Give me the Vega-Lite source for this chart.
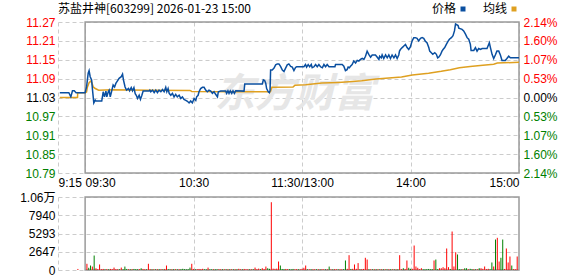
{
  "$schema": "https://vega.github.io/schema/vega-lite/v6.json",
  "background": "#ffffff",
  "padding": {"left": 0, "top": 3, "right": 0, "bottom": 0},
  "bounds": "flush",
  "spacing": 24,
  "config": {
    "view": {"stroke": null},
    "axis": {"labelFont": "Liberation Sans", "labelFontSize": 12, "labelColor": "#000000", "ticks": false, "domain": false, "title": null, "gridColor": "#cccccc", "gridDash": [4, 3], "gridWidth": 1, "labelOverlap": false, "tickCount": 30}
  },
  "datasets": {
    "price": [
      {"t":1,"p":11.045},{"t":6,"p":11.045},{"t":7.1,"p":11.032},{"t":8,"p":11.051},{"t":9,"p":11.051},{"t":10,"p":11.045},{"t":15,"p":11.045},
      {"t":15.8,"p":11.063},{"t":16.7,"p":11.106},{"t":17.2,"p":11.114},{"t":17.8,"p":11.095},{"t":18.6,"p":11.085},{"t":19.1,"p":11.053},{"t":19.8,"p":11.013},{"t":20.6,"p":11.022},{"t":21,"p":11.019},{"t":24.2,"p":11.019},
      {"t":25,"p":11.048},{"t":25.7,"p":11.032},{"t":26.5,"p":11.05},{"t":27,"p":11.032},{"t":27.8,"p":11.048},{"t":28.3,"p":11.053},{"t":28.9,"p":11.032},{"t":29.6,"p":11.048},{"t":30.5,"p":11.069},{"t":31.3,"p":11.063},{"t":32,"p":11.074},{"t":32.9,"p":11.082},{"t":33.8,"p":11.09},{"t":35,"p":11.095},{"t":35.7,"p":11.103},{"t":36.2,"p":11.085},{"t":37.1,"p":11.063},{"t":37.9,"p":11.053},{"t":39,"p":11.058},{"t":39.6,"p":11.051},{"t":40.5,"p":11.061},{"t":41.2,"p":11.051},{"t":42,"p":11.061},{"t":42.7,"p":11.042},
      {"t":43.3,"p":11.037},{"t":44,"p":11.027},{"t":44.9,"p":11.037},{"t":45.6,"p":11.024},{"t":46.4,"p":11.037},{"t":47.1,"p":11.05},{"t":50.4,"p":11.05},{"t":50.8,"p":11.053},{"t":51.3,"p":11.048},{"t":52.3,"p":11.053},{"t":53.2,"p":11.045},{"t":54.1,"p":11.053},{"t":55,"p":11.045},{"t":55.9,"p":11.053},{"t":56.9,"p":11.048},{"t":57.8,"p":11.055},{"t":58.7,"p":11.048},{"t":59.6,"p":11.062},{"t":60.2,"p":11.048},{"t":60.9,"p":11.058},{"t":61.5,"p":11.043},{"t":62.4,"p":11.037},{"t":63.3,"p":11.043},{"t":64.2,"p":11.032},{"t":65.1,"p":11.04},{"t":66,"p":11.032},{"t":67,"p":11.037},{"t":67.9,"p":11.027},{"t":68.8,"p":11.032},{"t":69.7,"p":11.024},{"t":70.7,"p":11.021},{"t":71.6,"p":11.018},{"t":72.5,"p":11.013},{"t":73.4,"p":11.019},{"t":74.3,"p":11.013},{"t":75.3,"p":11.027},{"t":76.2,"p":11.021},{"t":76.7,"p":11.032},{"t":77.5,"p":11.037},{"t":78,"p":11.048},{"t":78.9,"p":11.058},{"t":79.9,"p":11.062},{"t":80.8,"p":11.062},{"t":81.7,"p":11.053},{"t":82.6,"p":11.048},{"t":83.5,"p":11.053},{"t":84.5,"p":11.05},{"t":85.4,"p":11.043},{"t":86.3,"p":11.048},{"t":87.2,"p":11.04},
      {"t":88.2,"p":11.032},{"t":88.7,"p":11.048},{"t":90,"p":11.05},{"t":92.8,"p":11.05},{"t":93.3,"p":11.043},{"t":94,"p":11.051},{"t":94.6,"p":11.043},{"t":95.3,"p":11.051},{"t":96.1,"p":11.043},{"t":96.8,"p":11.051},{"t":97.6,"p":11.043},{"t":98.3,"p":11.051},{"t":102.9,"p":11.05},{"t":103.3,"p":11.072},{"t":113,"p":11.072},{"t":113.6,"p":11.085},{"t":114.3,"p":11.083},{"t":114.9,"p":11.075},{"t":115.4,"p":11.058},{"t":116.3,"p":11.048},{"t":116.9,"p":11.045},{"t":117.3,"p":11.053},{"t":117.6,"p":11.116},{"t":118.5,"p":11.116},{"t":119.5,"p":11.122},{"t":120.4,"p":11.132},{"t":121.3,"p":11.135},{"t":122.2,"p":11.135},{"t":123.1,"p":11.127},{"t":124.1,"p":11.116},{"t":125,"p":11.111},{"t":125.9,"p":11.122},{"t":126.8,"p":11.132},{"t":127.7,"p":11.135},{"t":128.7,"p":11.127},{"t":129.6,"p":11.125},{"t":130.5,"p":11.114},{"t":131.4,"p":11.124},
      {"t":132,"p":11.126},{"t":136,"p":11.126},{"t":136.9,"p":11.133},{"t":137.5,"p":11.125},{"t":138.4,"p":11.133},{"t":139.2,"p":11.126},{"t":140.1,"p":11.133},{"t":140.6,"p":11.123},{"t":141.6,"p":11.126},{"t":142.5,"p":11.133},{"t":143.4,"p":11.126},{"t":144.3,"p":11.133},{"t":145.2,"p":11.126},{"t":146.2,"p":11.123},{"t":147.1,"p":11.133},{"t":148,"p":11.126},{"t":148.9,"p":11.133},{"t":149.9,"p":11.126},{"t":153.2,"p":11.126},{"t":153.5,"p":11.133},{"t":157.2,"p":11.133},{"t":158.1,"p":11.128},{"t":159,"p":11.114},{"t":159.9,"p":11.117},{"t":160.5,"p":11.125},{"t":161.2,"p":11.123},{"t":161.8,"p":11.128},{"t":162.7,"p":11.133},{"t":163.6,"p":11.144},{"t":164.6,"p":11.138},{"t":165.5,"p":11.146},{"t":166.4,"p":11.144},{"t":167.3,"p":11.149},{"t":168.3,"p":11.152},{"t":169.2,"p":11.149},{"t":170.1,"p":11.159},{"t":171,"p":11.175},{"t":171.9,"p":11.165},{"t":172.9,"p":11.156},{"t":173.8,"p":11.163},{"t":175.6,"p":11.163},
      {"t":176.6,"p":11.156},{"t":177.5,"p":11.149},{"t":177.9,"p":11.159},{"t":178.8,"p":11.154},{"t":179.3,"p":11.163},{"t":180.2,"p":11.152},{"t":181.2,"p":11.163},{"t":182.1,"p":11.154},{"t":183,"p":11.163},{"t":183.9,"p":11.152},{"t":184.8,"p":11.163},{"t":185.8,"p":11.154},{"t":186.7,"p":11.163},{"t":187.6,"p":11.152},{"t":188.5,"p":11.163},{"t":188.9,"p":11.175},{"t":189.4,"p":11.18},{"t":190.4,"p":11.186},{"t":191.3,"p":11.191},{"t":192.2,"p":11.196},{"t":193.1,"p":11.186},{"t":194,"p":11.18},{"t":194.9,"p":11.188},{"t":195.9,"p":11.207},{"t":196.8,"p":11.217},{"t":197.7,"p":11.217},{"t":198.6,"p":11.215},{"t":199.5,"p":11.207},{"t":200.5,"p":11.215},{"t":201.4,"p":11.217},{"t":202.3,"p":11.215},{"t":203.2,"p":11.206},{"t":204.1,"p":11.201},{"t":205.1,"p":11.186},{"t":205.6,"p":11.175},{"t":206.5,"p":11.17},{"t":207.3,"p":11.165},{"t":208.4,"p":11.17},{"t":209.3,"p":11.165},{"t":210,"p":11.154},{"t":210.6,"p":11.156},{"t":211.5,"p":11.163},{"t":212.4,"p":11.175},{"t":213,"p":11.18},{"t":213.9,"p":11.186},{"t":214.8,"p":11.196},{"t":215.8,"p":11.206},{"t":216.5,"p":11.212},{"t":217.6,"p":11.217},{"t":218.5,"p":11.223},{"t":219.3,"p":11.238},{"t":219.9,"p":11.26},
      {"t":221.3,"p":11.255},{"t":221.7,"p":11.247},{"t":223.5,"p":11.243},{"t":224.4,"p":11.238},{"t":225.4,"p":11.228},{"t":226.3,"p":11.217},{"t":227.2,"p":11.212},{"t":228.1,"p":11.196},{"t":228.5,"p":11.177},{"t":230,"p":11.177},{"t":230.9,"p":11.186},{"t":231.8,"p":11.175},{"t":232.7,"p":11.183},{"t":233.7,"p":11.18},{"t":234.6,"p":11.183},{"t":237.3,"p":11.183},{"t":238.6,"p":11.201},{"t":239.2,"p":11.186},{"t":240.1,"p":11.165},{"t":241,"p":11.152},{"t":241.9,"p":11.163},{"t":242.8,"p":11.175},{"t":243.8,"p":11.175},{"t":244.7,"p":11.163},{"t":245.6,"p":11.146},{"t":247.4,"p":11.146},{"t":248.3,"p":11.152},{"t":249.3,"p":11.159},{"t":250.2,"p":11.154},{"t":255,"p":11.154}
    ],
    "avg": [
      {"t":1,"a":11.03},{"t":10.8,"a":11.03},{"t":10.9,"a":11.045},{"t":15,"a":11.045},{"t":15.8,"a":11.047},{"t":16.3,"a":11.063},{"t":17.2,"a":11.076},{"t":18.3,"a":11.082},{"t":19.1,"a":11.07},{"t":19.5,"a":11.063},{"t":20.6,"a":11.058},{"t":22.5,"a":11.053},{"t":30,"a":11.054},{"t":50,"a":11.053},{"t":73,"a":11.052},{"t":74,"a":11.049},{"t":100,"a":11.048},{"t":117.5,"a":11.048},{"t":118.3,"a":11.062},{"t":130,"a":11.063},{"t":131,"a":11.068},{"t":137,"a":11.07},{"t":146,"a":11.075},{"t":155,"a":11.077},{"t":161,"a":11.079},{"t":168,"a":11.082},{"t":176,"a":11.088},{"t":183,"a":11.091},{"t":190,"a":11.094},{"t":196,"a":11.1},{"t":205,"a":11.106},{"t":212,"a":11.112},{"t":217,"a":11.117},{"t":222,"a":11.123},{"t":228,"a":11.127},{"t":235,"a":11.131},{"t":241,"a":11.134},{"t":243,"a":11.138},{"t":255,"a":11.14}
    ],
    "vol": [
      {"t":11,"v":150,"c":"u"},{"t":16,"v":900,"c":"u"},{"t":17,"v":320,"c":"d"},{"t":18,"v":650,"c":"d"},{"t":19,"v":500,"c":"u"},{"t":20,"v":2100,"c":"d"},{"t":21,"v":250,"c":"u"},{"t":22,"v":120,"c":"u"},{"t":23,"v":800,"c":"u"},
      {"t":24,"v":120,"c":"u"},{"t":25,"v":150,"c":"u"},{"t":26,"v":100,"c":"d"},{"t":27,"v":120,"c":"u"},{"t":28,"v":100,"c":"d"},{"t":29,"v":150,"c":"u"},{"t":30,"v":120,"c":"u"},{"t":31,"v":350,"c":"u"},{"t":32,"v":120,"c":"u"},{"t":33,"v":100,"c":"u"},{"t":34,"v":100,"c":"d"},{"t":35,"v":350,"c":"u"},{"t":36,"v":120,"c":"d"},{"t":37,"v":500,"c":"d"},{"t":38,"v":150,"c":"d"},{"t":39,"v":100,"c":"u"},{"t":40,"v":100,"c":"d"},{"t":41,"v":120,"c":"u"},{"t":42,"v":150,"c":"d"},{"t":43,"v":120,"c":"d"},{"t":44,"v":100,"c":"d"},{"t":45,"v":120,"c":"u"},{"t":46,"v":250,"c":"d"},{"t":47,"v":150,"c":"u"},{"t":48,"v":100,"c":"u"},{"t":49,"v":100,"c":"d"},{"t":50,"v":900,"c":"u"},
      {"t":51,"v":120,"c":"u"},{"t":52,"v":100,"c":"d"},{"t":53,"v":100,"c":"u"},{"t":54,"v":100,"c":"d"},{"t":55,"v":100,"c":"u"},{"t":56,"v":100,"c":"d"},{"t":57,"v":120,"c":"u"},{"t":58,"v":100,"c":"d"},{"t":59,"v":150,"c":"u"},{"t":60,"v":650,"c":"u"},{"t":61,"v":120,"c":"d"},{"t":62,"v":100,"c":"d"},{"t":63,"v":100,"c":"u"},{"t":64,"v":120,"c":"d"},{"t":65,"v":100,"c":"u"},{"t":66,"v":100,"c":"d"},{"t":67,"v":100,"c":"u"},{"t":68,"v":120,"c":"d"},{"t":69,"v":170,"c":"d"},{"t":70,"v":120,"c":"d"},{"t":71,"v":100,"c":"d"},{"t":72,"v":120,"c":"d"},{"t":73,"v":350,"c":"d"},{"t":74,"v":900,"c":"u"},{"t":75,"v":150,"c":"u"},
      {"t":76,"v":100,"c":"d"},{"t":77,"v":120,"c":"u"},{"t":78,"v":150,"c":"u"},{"t":79,"v":120,"c":"u"},{"t":80,"v":170,"c":"u"},{"t":81,"v":100,"c":"d"},{"t":82,"v":100,"c":"d"},{"t":83,"v":350,"c":"u"},{"t":84,"v":100,"c":"d"},{"t":85,"v":100,"c":"d"},{"t":86,"v":100,"c":"u"},{"t":87,"v":100,"c":"d"},{"t":88,"v":100,"c":"d"},{"t":89,"v":120,"c":"u"},{"t":90,"v":100,"c":"u"},{"t":91,"v":100,"c":"d"},{"t":92,"v":100,"c":"u"},{"t":93,"v":100,"c":"d"},{"t":94,"v":100,"c":"u"},{"t":95,"v":100,"c":"d"},{"t":96,"v":100,"c":"u"},{"t":97,"v":100,"c":"d"},{"t":98,"v":100,"c":"u"},{"t":99,"v":100,"c":"d"},{"t":100,"v":170,"c":"u"},
      {"t":101,"v":100,"c":"u"},{"t":102,"v":100,"c":"d"},{"t":103,"v":150,"c":"u"},{"t":104,"v":100,"c":"u"},{"t":105,"v":100,"c":"u"},{"t":106,"v":100,"c":"d"},{"t":107,"v":100,"c":"u"},{"t":108,"v":120,"c":"d"},{"t":109,"v":350,"c":"u"},{"t":110,"v":120,"c":"u"},{"t":111,"v":200,"c":"u"},{"t":112,"v":120,"c":"d"},{"t":113,"v":260,"c":"u"},{"t":114,"v":150,"c":"u"},{"t":115,"v":500,"c":"u"},{"t":116,"v":260,"c":"d"},{"t":117,"v":170,"c":"d"},{"t":118,"v":9830,"c":"u"},{"t":119,"v":200,"c":"u"},{"t":120,"v":170,"c":"u"},{"t":121,"v":200,"c":"u"},{"t":122,"v":1230,"c":"u"},{"t":123,"v":650,"c":"d"},{"t":124,"v":150,"c":"d"},{"t":125,"v":120,"c":"d"},
      {"t":126,"v":150,"c":"u"},{"t":127,"v":120,"c":"u"},{"t":128,"v":120,"c":"d"},{"t":129,"v":100,"c":"d"},{"t":130,"v":150,"c":"d"},{"t":131,"v":100,"c":"u"},{"t":132,"v":120,"c":"u"},{"t":133,"v":100,"c":"d"},{"t":134,"v":100,"c":"u"},{"t":135,"v":170,"c":"u"},{"t":136,"v":320,"c":"u"},{"t":137,"v":650,"c":"u"},{"t":138,"v":100,"c":"d"},{"t":139,"v":100,"c":"u"},{"t":140,"v":100,"c":"d"},{"t":141,"v":100,"c":"u"},{"t":142,"v":100,"c":"u"},{"t":143,"v":100,"c":"d"},{"t":144,"v":100,"c":"u"},{"t":145,"v":100,"c":"d"},{"t":146,"v":120,"c":"u"},{"t":147,"v":100,"c":"u"},{"t":148,"v":100,"c":"d"},{"t":149,"v":100,"c":"u"},{"t":150,"v":500,"c":"d"},
      {"t":151,"v":100,"c":"u"},{"t":152,"v":100,"c":"d"},{"t":153,"v":120,"c":"u"},{"t":154,"v":100,"c":"u"},{"t":155,"v":100,"c":"d"},{"t":156,"v":100,"c":"u"},{"t":157,"v":100,"c":"u"},{"t":158,"v":120,"c":"d"},{"t":159,"v":1380,"c":"d"},{"t":160,"v":170,"c":"u"},{"t":161,"v":2150,"c":"u"},{"t":162,"v":150,"c":"d"},{"t":163,"v":170,"c":"u"},{"t":164,"v":800,"c":"u"},{"t":165,"v":170,"c":"u"},{"t":166,"v":1000,"c":"u"},{"t":167,"v":120,"c":"d"},{"t":168,"v":120,"c":"u"},{"t":169,"v":150,"c":"u"},{"t":170,"v":1770,"c":"u"},{"t":171,"v":1520,"c":"u"},{"t":172,"v":100,"c":"d"},{"t":173,"v":100,"c":"u"},{"t":174,"v":100,"c":"d"},{"t":175,"v":100,"c":"u"},
      {"t":176,"v":100,"c":"d"},{"t":177,"v":100,"c":"u"},{"t":178,"v":100,"c":"d"},{"t":179,"v":100,"c":"u"},{"t":180,"v":100,"c":"d"},{"t":181,"v":100,"c":"u"},{"t":182,"v":100,"c":"d"},{"t":183,"v":100,"c":"u"},{"t":184,"v":100,"c":"d"},{"t":185,"v":100,"c":"u"},{"t":186,"v":100,"c":"d"},{"t":187,"v":100,"c":"u"},{"t":188,"v":100,"c":"d"},{"t":189,"v":2150,"c":"u"},{"t":190,"v":120,"c":"u"},{"t":191,"v":260,"c":"d"},{"t":192,"v":150,"c":"u"},{"t":193,"v":1380,"c":"u"},{"t":194,"v":320,"c":"d"},{"t":195,"v":170,"c":"d"},{"t":196,"v":170,"c":"u"},{"t":197,"v":3550,"c":"u"},{"t":198,"v":510,"c":"u"},{"t":199,"v":320,"c":"u"},{"t":200,"v":120,"c":"u"},
      {"t":201,"v":260,"c":"u"},{"t":202,"v":100,"c":"d"},{"t":203,"v":100,"c":"d"},{"t":204,"v":120,"c":"d"},{"t":205,"v":150,"c":"d"},{"t":206,"v":100,"c":"d"},{"t":207,"v":120,"c":"d"},{"t":208,"v":1380,"c":"u"},{"t":209,"v":1520,"c":"d"},{"t":210,"v":120,"c":"d"},{"t":211,"v":260,"c":"u"},{"t":212,"v":260,"c":"u"},{"t":213,"v":410,"c":"u"},{"t":214,"v":260,"c":"u"},{"t":215,"v":3120,"c":"u"},{"t":216,"v":410,"c":"u"},{"t":217,"v":150,"c":"d"},{"t":218,"v":5580,"c":"u"},{"t":219,"v":510,"c":"u"},{"t":220,"v":2580,"c":"u"},{"t":221,"v":2250,"c":"d"},{"t":222,"v":120,"c":"d"},{"t":223,"v":100,"c":"d"},{"t":224,"v":100,"c":"u"},{"t":225,"v":260,"c":"d"},
      {"t":226,"v":260,"c":"d"},{"t":227,"v":100,"c":"u"},{"t":228,"v":170,"c":"d"},{"t":229,"v":120,"c":"d"},{"t":230,"v":100,"c":"u"},{"t":231,"v":100,"c":"d"},{"t":232,"v":100,"c":"u"},{"t":233,"v":260,"c":"d"},{"t":234,"v":260,"c":"u"},{"t":235,"v":170,"c":"u"},{"t":236,"v":510,"c":"u"},{"t":237,"v":120,"c":"u"},{"t":238,"v":170,"c":"u"},{"t":239,"v":120,"c":"d"},{"t":240,"v":1090,"c":"d"},{"t":241,"v":510,"c":"u"},{"t":242,"v":4420,"c":"d"},{"t":243,"v":4670,"c":"u"},{"t":244,"v":1230,"c":"u"},{"t":245,"v":1770,"c":"d"},{"t":246,"v":4420,"c":"d"},{"t":247,"v":150,"c":"u"},{"t":248,"v":3120,"c":"u"},{"t":249,"v":1090,"c":"u"},{"t":250,"v":1960,"c":"u"},
      {"t":251,"v":650,"c":"d"},{"t":252,"v":120,"c":"u"},{"t":253,"v":100,"c":"u"},{"t":254,"v":1960,"c":"u"}
    ]
  },
  "vconcat": [
    {
      "width": 461,
      "height": 151,
      "title": {"text": "苏盐井神[603299] 2026-01-23 15:00", "anchor": "start", "frame": "group", "font": "Noto Sans CJK SC", "fontSize": 12, "fontWeight": "normal", "color": "#000000", "offset": 0},
      "layer": [
        {
          "layer": [
            {
              "data": {"values": [{"w": "东方财富"}]},
              "mark": {"type": "text", "font": "Noto Sans CJK SC", "fontSize": 40, "fontWeight": "bold", "fontStyle": "italic", "color": "#e6e6e6", "baseline": "middle", "align": "center"},
              "encoding": {"text": {"field": "w", "type": "nominal"}, "x": {"datum": 131}, "y": {"datum": 11.039}}
            },
            {
              "data": {"values": [{}]},
              "mark": {"type": "rect", "fill": "transparent", "stroke": "#9a9a9a", "strokeWidth": 1.5},
              "encoding": {"x": {"datum": 15}, "x2": {"datum": 255}, "y": {"datum": 10.794}, "y2": {"datum": 11.266}}
            },
            {
              "data": {"name": "avg"},
              "mark": {"type": "line", "strokeWidth": 1.5},
              "encoding": {
                "x": {"field": "t", "type": "quantitative"},
                "y": {"field": "a", "type": "quantitative"},
                "color": {"datum": "均线", "type": "nominal"}
              }
            },
            {
              "data": {"name": "price"},
              "mark": {"type": "line", "strokeWidth": 1.5},
              "encoding": {
                "x": {
                  "field": "t", "type": "quantitative",
                  "scale": {"domain": [0, 255], "nice": false, "zero": false},
                  "axis": {
                    "values": [0, 15, 75, 135, 195, 255], "tickCount": 30,
                    "labelExpr": "datum.value == 0 ? '9:15' : datum.value == 15 ? '09:30' : datum.value == 75 ? '10:30' : datum.value == 135 ? '11:30/13:00' : datum.value == 195 ? '14:00' : '15:00'",
                    "labelAlign": {"condition": [{"test": "datum.value <= 15", "value": "left"}, {"test": "datum.value >= 255", "value": "right"}], "value": "center"},
                    "grid": true, "labelPadding": 4, "labelOverlap": false, "labelFlush": false, "labelBound": false
                  }
                },
                "y": {
                  "field": "p", "type": "quantitative",
                  "scale": {"domain": [10.794, 11.266], "nice": false, "zero": false},
                  "axis": {
                    "values": [10.794, 10.853, 10.912, 10.971, 11.03, 11.089, 11.148, 11.207, 11.266], "tickCount": 30,
                    "format": ".2f", "grid": true, "labelPadding": 3, "minExtent": 58, "maxExtent": 58, "labelOverlap": false,
                    "labelColor": {"condition": [{"test": "datum.value > 11.035", "value": "#ff0000"}, {"test": "datum.value < 11.025", "value": "#008000"}], "value": "#000000"}
                  }
                },
                "color": {
                  "datum": "价格", "type": "nominal",
                  "scale": {"domain": ["价格", "均线"], "range": ["#0a4fa0", "#dfa020"]},
                  "legend": {
                    "orient": "none", "legendX": 399, "legendY": -19, "direction": "horizontal", "title": null,
                    "symbolType": "square", "symbolSize": 25, "symbolStrokeWidth": 0,
                    "labelFont": "Noto Sans CJK SC", "labelFontSize": 12, "labelColor": "#000000",
                    "labelAlign": "right", "labelOffset": -13, "columnPadding": 16, "padding": 0,
                    "encode": {"symbols": {"update": {"fill": {"scale": "color", "field": "value"}, "stroke": {"value": "transparent"}}}}
                  }
                }
              }
            }
          ]
        },
        {
          "data": {"name": "avg"},
          "mark": {"type": "line", "opacity": 0},
          "encoding": {
            "x": {"field": "t", "type": "quantitative"},
            "y": {
              "field": "a", "type": "quantitative",
              "scale": {"domain": [10.794, 11.266], "nice": false, "zero": false},
              "axis": {
                "orient": "right",
                "values": [10.794, 10.853, 10.912, 10.971, 11.03, 11.089, 11.148, 11.207, 11.266], "tickCount": 30,
                "labelExpr": "format(abs(datum.value - 11.03) / 11.03 * 100, '.2f') + '%'",
                "grid": false, "labelPadding": 4, "labelOverlap": false,
                "labelColor": {"condition": [{"test": "datum.value > 11.035", "value": "#ff0000"}, {"test": "datum.value < 11.025", "value": "#008000"}], "value": "#000000"}
              }
            }
          }
        }
      ],
      "resolve": {"scale": {"y": "independent"}}
    },
    {
      "width": 461,
      "height": 73,
      "layer": [
        {
          "data": {"values": [{}]},
          "mark": {"type": "rect", "fill": "transparent", "stroke": "#9a9a9a", "strokeWidth": 1.5},
          "encoding": {"x": {"datum": 15}, "x2": {"datum": 255}, "y": {"datum": 0}, "y2": {"datum": 10587}}
        },
        {
          "data": {"name": "vol"},
          "mark": {"type": "rule", "strokeWidth": 1},
          "encoding": {
            "x": {
              "field": "t", "type": "quantitative",
              "scale": {"domain": [0, 255], "nice": false, "zero": false},
              "axis": {"values": [0, 75, 135, 195], "tickCount": 30, "labels": false, "grid": true}
            },
            "y": {
              "field": "v", "type": "quantitative",
              "scale": {"domain": [0, 10587], "nice": false},
              "axis": {
                "values": [0, 2647, 5293, 7940, 10587], "tickCount": 30,
                "labelExpr": "datum.value >= 10000 ? '1.06万' : format(datum.value, '.0f')",
                "labelFont": "Liberation Sans, Noto Sans CJK SC",
                "grid": true, "labelPadding": 3, "minExtent": 58, "maxExtent": 58, "labelOverlap": false
              }
            },
            "y2": {"datum": 0},
            "stroke": {"field": "c", "type": "nominal", "scale": {"domain": ["u", "d"], "range": ["#ff0000", "#008000"]}, "legend": null}
          }
        }
      ]
    }
  ]
}
